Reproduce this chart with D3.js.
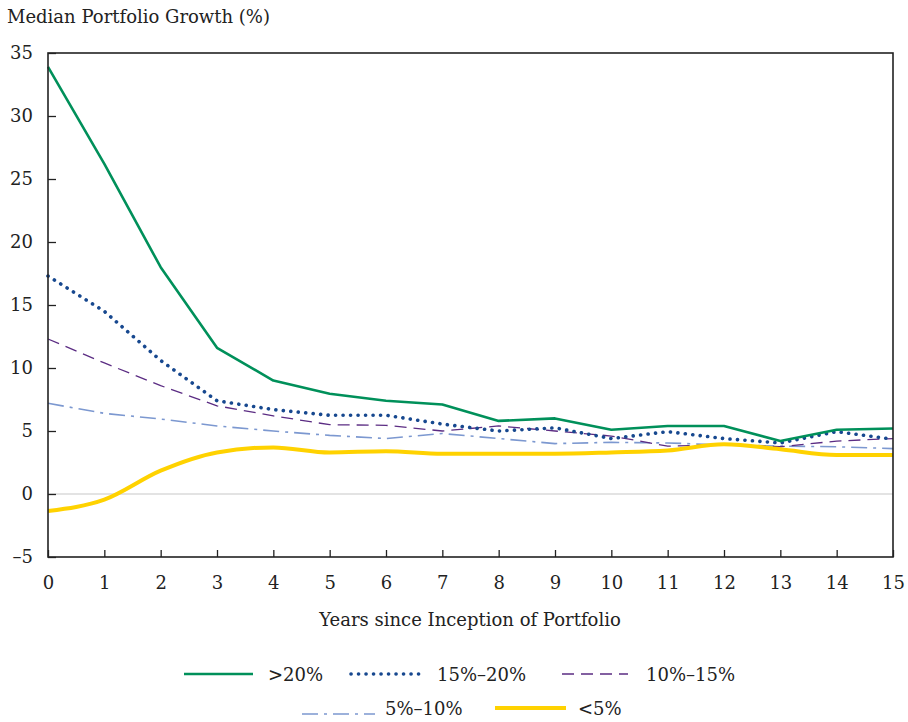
<!DOCTYPE html>
<html><head><meta charset="utf-8">
<script src="https://cdn.jsdelivr.net/npm/d3@7"></script>
<style>body{margin:0;background:#fff;} svg text{font-family:"DejaVu Serif",serif !important;fill:#222;}</style>
</head><body>
<svg id="c" width="908" height="722"></svg>
<script>
const years = [0,1,2,3,4,5,6,7,8,9,10,11,12,13,14,15];
const over20 = [33.9,26.2,18.0,11.6,9.0,7.95,7.4,7.1,5.8,6.0,5.1,5.4,5.4,4.2,5.1,5.2];
const g15to20 = [17.3,14.5,10.6,7.4,6.7,6.25,6.25,5.55,5.0,5.25,4.4,4.95,4.4,4.05,4.95,4.35];
const g10to15 = [12.3,10.4,8.6,7.0,6.2,5.5,5.45,5.0,5.4,5.0,4.6,3.8,3.9,3.75,4.2,4.4];
const g5to10 = [7.2,6.4,5.95,5.4,5.0,4.65,4.4,4.8,4.4,4.0,4.1,4.05,3.9,3.8,3.75,3.6];
const under5 = [-1.35,-0.45,1.85,3.3,3.7,3.3,3.4,3.2,3.2,3.2,3.3,3.45,3.95,3.55,3.1,3.1];
const seriesNames = [">20%","15%–20%","10%–15%","5%–10%","<5%"];
const yTicks = [-5,0,5,10,15,20,25,30,35];
const xTicks = years;

const svg = d3.select("#c");
const L=48,R=893,T=53,B=557;
const x = d3.scaleLinear().domain([0,15]).range([L,R]);
const y = d3.scaleLinear().domain([-5,35]).range([B,T]);

svg.append("line").attr("x1",L).attr("x2",R).attr("y1",y(0)).attr("y2",y(0)).attr("stroke","#c8c8c8").attr("stroke-width",1.2);

const styles = [
 {data:over20,color:"#00905A",w:2.6,dash:null,cap:"butt",curve:d3.curveLinear},
 {data:g15to20,color:"#17488F",w:3.6,dash:"0.1,7.4",cap:"round",curve:d3.curveLinear},
 {data:g10to15,color:"#5B2C83",w:1.3,dash:"12,7",cap:"butt",curve:d3.curveLinear},
 {data:g5to10,color:"#7C98D0",w:1.6,dash:"16,6,3,6",cap:"butt",curve:d3.curveLinear},
 {data:under5,color:"#FFD200",w:4,dash:null,cap:"butt",curve:d3.curveMonotoneX}
];
const g = svg.append("g");
[3,2,1,0,4].forEach(k=>{
  const s=styles[k];
  const line = d3.line().x((d,i)=>x(years[i])).y(d=>y(d)).curve(s.curve);
  g.append("path").attr("d",line(s.data)).attr("fill","none").attr("stroke",s.color)
   .attr("stroke-width",s.w).attr("stroke-dasharray",s.dash).attr("stroke-linecap",s.cap).attr("stroke-linejoin","round");
});

svg.append("rect").attr("x",L).attr("y",T).attr("width",R-L).attr("height",B-T).attr("fill","none").attr("stroke","#222").attr("stroke-width",1.6);

const ya = svg.append("g").attr("transform",`translate(${L},0)`)
  .call(d3.axisLeft(y).tickValues(yTicks).tickSize(-8).tickPadding(15).tickFormat(d=>d<0?"–"+Math.abs(d):d));
ya.attr("font-family",null);
ya.select(".domain").remove();
ya.selectAll("line").attr("stroke","#222").attr("stroke-width",1.3);
ya.selectAll("text").style("font-size","18px").attr("fill","#222");

const xa = svg.append("g").attr("transform",`translate(0,${B})`)
  .call(d3.axisBottom(x).tickValues(xTicks).tickSize(-7).tickPadding(19));
xa.attr("font-family",null);
xa.select(".domain").remove();
xa.selectAll("line").attr("stroke","#222").attr("stroke-width",1.3);
xa.selectAll("text").style("font-size","18px").attr("fill","#222");

svg.append("text").attr("x",7).attr("y",23).style("font-size","18px").text("Median Portfolio Growth (%)");
svg.append("text").attr("x",470).attr("y",626).attr("text-anchor","middle").style("font-size","18px").text("Years since Inception of Portfolio");

const leg = [
 {k:0,x1:184,x2:253,tx:268,ly:674,ty:681},
 {k:1,x1:351,x2:420,tx:437,ly:674,ty:681},
 {k:2,x1:562,x2:628,tx:646,ly:674,ty:681},
 {k:3,x1:302,x2:375,tx:385,ly:714,ty:715},
 {k:4,x1:495,x2:566,tx:578,ly:708,ty:715}
];
leg.forEach(l=>{
  const s=styles[l.k];
  svg.append("line").attr("x1",l.x1).attr("x2",l.x2).attr("y1",l.ly).attr("y2",l.ly)
    .attr("stroke",s.color).attr("stroke-width",s.w).attr("stroke-dasharray",s.dash).attr("stroke-linecap",s.cap);
  svg.append("text").attr("x",l.tx).attr("y",l.ty).style("font-size","18px").text(seriesNames[l.k]);
});
</script></body></html>
